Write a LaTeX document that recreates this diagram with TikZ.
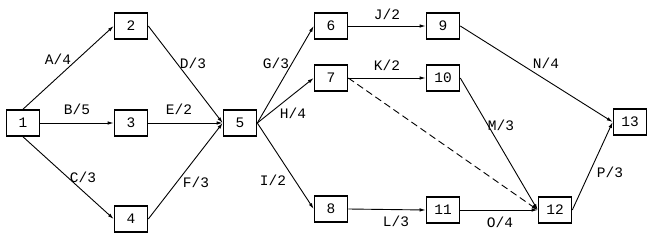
\documentclass[tikz,border=0pt]{standalone}
\usepackage{fontspec}
\setmainfont{Liberation Mono}
\usetikzlibrary{arrows.meta}
\begin{document}
\begin{tikzpicture}[x=1pt,y=-1pt,
  ev/.style={draw,line width=1.6pt,minimum width=33pt,minimum height=26pt,inner sep=0pt,font=\fontsize{14.5}{14.5}\selectfont},
  act/.style={line width=0.9pt,-{Latex[length=6pt,width=3.5pt]}},
  lab/.style={font=\fontsize{14.5}{14.5}\selectfont,inner sep=0pt}]
\useasboundingbox (0,0) rectangle (656,238);
\node[ev] (n1) at (23,123) {1};
\node[ev] (n2) at (131,26) {2};
\node[ev] (n3) at (131,123) {3};
\node[ev] (n4) at (131,219) {4};
\node[ev] (n5) at (240,123) {5};
\node[ev] (n6) at (331,26) {6};
\node[ev] (n7) at (331,78) {7};
\node[ev] (n8) at (331,209) {8};
\node[ev] (n9) at (443,26) {9};
\node[ev] (n10) at (443,78) {10};
\node[ev] (n11) at (443,210) {11};
\node[ev] (n12) at (555,210) {12};
\node[ev] (n13) at (630,122) {13};
\draw[act] (n1.north) -- (n2.west);
\draw[act] (n1.east) -- (n3.west);
\draw[act] (n1.south) -- (n4.west);
\draw[act] (n2.east) -- (n5.west);
\draw[act] (n3.east) -- (n5.west);
\draw[act] (n4.east) -- (n5.west);
\draw[act] (n5.east) -- (n6.west);
\draw[act] (n5.east) -- (n7.west);
\draw[act] (n5.east) -- (n8.west);
\draw[act] (n6.east) -- (n9.west);
\draw[act] (n7.east) -- (n10.west);
\draw[act,dash pattern=on 7pt off 4pt] (n7.east) -- (n12.west);
\draw[act] (n10.east) -- (n12.west);
\draw[act] (n8.east) -- (n11.west);
\draw[act] (n11.east) -- (n12.west);
\draw[act] (n9.east) -- (n13.west);
\draw[act] (n12.east) -- (n13.west);
\node[lab] (la) at (58,59) {A/4};
\node[lab] (lb) at (77,109) {B/5};
\node[lab] (lc) at (83,177) {C/3};
\node[lab] (ld) at (193,63) {D/3};
\node[lab] (le) at (179,109) {E/2};
\node[lab] (lf) at (196,182) {F/3};
\node[lab] (lg) at (276,63) {G/3};
\node[lab] (lh) at (293,113) {H/4};
\node[lab] (li) at (273,180) {I/2};
\node[lab] (lj) at (387,14) {J/2};
\node[lab] (lk) at (387,65) {K/2};
\node[lab] (ll) at (396,221) {L/3};
\node[lab] (lm) at (501,125) {M/3};
\node[lab] (ln) at (546,63) {N/4};
\node[lab] (lo) at (500,222) {O/4};
\node[lab] (lp) at (610,172) {P/3};
\end{tikzpicture}
\end{document}
